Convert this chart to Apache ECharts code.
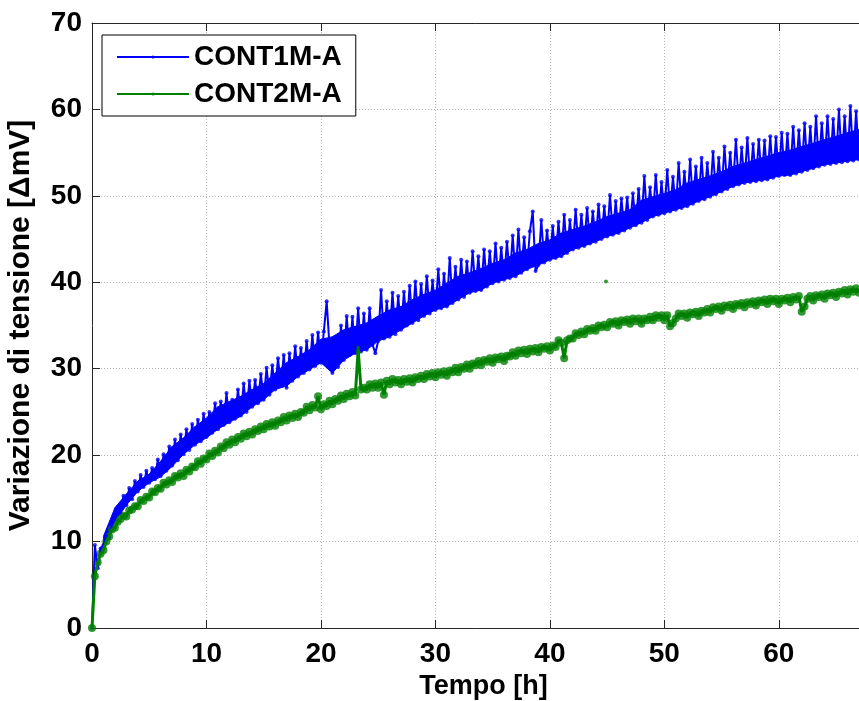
<!DOCTYPE html>
<html>
<head>
<meta charset="utf-8">
<script src="https://cdn.jsdelivr.net/npm/echarts@6/dist/echarts.min.js"></script>
<style>
  html, body { margin: 0; padding: 0; background: #fff; }
  #chart { width: 859px; height: 701px; }
</style>
</head>
<body>
<div id="chart"></div>
<script>
// Sampling interval of both recordings, in hours
const STEP_H = 0.25;

// CONT1M-A: voltage change [mV], one row per hour (samples at h, h+0.25, h+0.5, h+0.75)
const cont1Values = [
  0.0, 9.6, 6.9, 9.2,
  9.6, 10.8, 10.4, 12.0,
  12.5, 14.0, 13.2, 15.3,
  14.2, 16.2, 14.9, 17.0,
  15.8, 17.7, 16.3, 18.2,
  16.8, 18.5, 17.2, 19.5,
  17.6, 20.1, 18.2, 21.0,
  18.8, 21.8, 19.4, 22.4,
  20.1, 23.0, 20.6, 23.6,
  21.2, 24.1, 21.6, 24.8,
  22.1, 25.0, 22.6, 26.0,
  23.0, 26.2, 23.5, 27.2,
  23.8, 26.4, 24.2, 27.6,
  24.6, 28.3, 25.0, 28.6,
  25.6, 28.7, 26.0, 29.4,
  26.4, 30.1, 27.0, 30.4,
  27.6, 31.2, 28.0, 31.6,
  27.8, 31.8, 28.6, 32.6,
  29.1, 32.4, 29.5, 33.2,
  29.9, 33.9, 30.3, 34.2,
  30.7, 34.3, 37.8, 32.5,
  29.5, 33.7, 30.2, 35.0,
  31.0, 36.1, 31.6, 36.0,
  31.8, 37.0, 32.0, 36.4,
  32.2, 37.0, 32.8, 31.8,
  33.2, 39.1, 33.5, 37.8,
  33.7, 38.8, 34.0, 38.4,
  34.5, 38.9, 35.0, 39.6,
  35.3, 40.1, 35.6, 39.8,
  36.1, 40.7, 36.4, 40.2,
  36.8, 41.5, 37.0, 41.0,
  37.2, 42.8, 37.6, 41.8,
  38.0, 42.6, 38.3, 42.4,
  38.8, 43.6, 39.0, 43.0,
  39.1, 43.8, 39.5, 43.6,
  39.9, 44.5, 40.1, 44.0,
  40.3, 44.7, 40.5, 45.4,
  40.7, 46.1, 41.1, 45.2,
  41.5, 45.9, 48.2, 41.3,
  42.0, 47.2, 42.3, 46.0,
  42.6, 46.5, 42.8, 47.0,
  43.0, 47.8, 43.4, 47.2,
  43.8, 48.4, 44.0, 47.8,
  44.2, 48.6, 44.5, 48.2,
  44.7, 49.0, 45.0, 48.8,
  45.3, 50.1, 45.5, 49.4,
  45.7, 49.7, 46.0, 49.8,
  46.3, 50.3, 46.6, 50.8,
  46.9, 52.3, 47.2, 51.0,
  47.6, 52.4, 47.8, 51.6,
  48.0, 53.0, 48.2, 52.2,
  48.4, 53.8, 48.6, 52.8,
  48.8, 54.2, 49.1, 53.4,
  49.4, 54.4, 49.6, 53.8,
  49.9, 55.1, 50.2, 54.4,
  50.5, 55.7, 50.8, 55.0,
  51.1, 56.5, 51.3, 55.6,
  51.5, 56.7, 51.6, 56.0,
  51.7, 56.5, 51.8, 56.4,
  51.9, 56.9, 52.1, 56.8,
  52.3, 57.3, 52.4, 57.2,
  52.4, 58.0, 52.6, 57.6,
  52.8, 58.4, 53.0, 58.0,
  53.2, 59.2, 53.4, 58.4,
  53.6, 59.2, 53.7, 58.9,
  53.8, 60.0, 53.9, 59.2,
  54.0, 60.4, 54.1, 59.8,
  54.2
];

// CONT1M-A dense band (hourly lower and upper edge, mV), first value at hour 1
const BAND_START_H = 1;
const cont1BandLow = [
  9.4, 12.3, 14.2, 15.8, 16.8, 17.5, 18.7, 20.1, 21.2, 22.0,
  23.0, 23.8, 24.5, 25.6, 26.4, 27.6, 28.0, 29.1, 29.9, 30.7,
  29.5, 31.0, 31.8, 32.2, 33.2, 33.7, 34.5, 35.3, 36.1, 36.8,
  37.2, 38.0, 38.8, 39.1, 39.9, 40.3, 40.7, 41.5, 42.0, 42.6,
  43.0, 43.8, 44.2, 44.7, 45.3, 45.7, 46.3, 46.9, 47.6, 48.0,
  48.4, 48.8, 49.4, 49.9, 50.5, 51.1, 51.5, 51.7, 51.9, 52.3,
  52.4, 52.8, 53.2, 53.6, 53.8, 54.0, 54.2
];
const cont1BandTop = [
  10.6, 13.9, 15.5, 17.0, 17.8, 19.3, 21.0, 22.0, 23.3, 24.3,
  25.6, 26.2, 26.8, 27.6, 28.3, 29.5, 30.7, 31.4, 32.2, 33.4,
  33.7, 34.5, 34.9, 35.3, 36.1, 36.8, 37.2, 38.0, 38.6, 39.1,
  39.9, 40.7, 41.1, 41.6, 42.2, 42.6, 43.4, 43.8, 44.5, 44.9,
  45.7, 46.1, 46.5, 47.0, 47.6, 48.0, 48.4, 49.5, 49.9, 50.3,
  50.7, 51.5, 51.9, 52.3, 52.8, 53.4, 53.8, 54.2, 54.6, 55.0,
  55.3, 55.7, 56.1, 56.5, 56.9, 57.3, 57.7
];

// CONT2M-A: voltage change [mV], same sampling as CONT1M-A
const cont2Values = [
  0.0, 6.0, 7.6, 8.6,
  9.0, 10.0, 10.6, 11.4,
  11.6, 12.3, 12.6, 13.0,
  12.9, 13.6, 13.7, 14.1,
  14.1, 14.8, 14.7, 15.2,
  15.1, 15.8, 15.7, 16.2,
  16.1, 16.8, 16.6, 17.1,
  16.9, 17.6, 17.4, 17.9,
  17.6, 18.3, 18.1, 18.7,
  18.6, 19.3, 19.0, 19.6,
  19.5, 20.2, 19.9, 20.5,
  20.3, 21.0, 20.8, 21.5,
  21.2, 21.8, 21.5, 22.1,
  21.9, 22.5, 22.2, 22.7,
  22.4, 23.0, 22.8, 23.3,
  23.0, 23.6, 23.3, 23.8,
  23.4, 24.0, 23.8, 24.4,
  24.0, 24.6, 24.3, 24.8,
  24.4, 25.0, 24.9, 25.6,
  25.2, 25.8, 25.5, 26.8,
  25.3, 25.9, 25.7, 26.3,
  25.9, 26.5, 26.3, 26.9,
  26.5, 27.1, 26.8, 27.3,
  26.9, 32.2, 27.6, 27.8,
  27.6, 28.2, 27.8, 28.3,
  27.8, 28.4, 27.0, 28.6,
  28.2, 28.8, 28.4, 28.7,
  28.2, 28.8, 28.5, 28.9,
  28.4, 29.0, 28.8, 29.2,
  28.8, 29.4, 29.1, 29.5,
  29.0, 29.6, 29.3, 29.7,
  29.2, 29.8, 29.6, 30.1,
  29.6, 30.2, 30.0, 30.5,
  30.0, 30.6, 30.4, 30.9,
  30.4, 31.0, 30.8, 31.2,
  30.7, 31.3, 31.1, 31.4,
  30.9, 31.5, 31.4, 31.9,
  31.5, 32.1, 31.8, 32.2,
  31.7, 32.3, 32.0, 32.4,
  31.9, 32.5, 32.3, 32.6,
  32.1, 32.7, 32.5, 33.3,
  33.0, 31.2, 33.3, 33.5,
  33.5, 34.1, 33.9, 34.3,
  34.0, 34.6, 34.4, 34.7,
  34.4, 35.0, 34.8, 35.1,
  34.8, 35.4, 35.2, 35.5,
  35.0, 35.6, 35.4, 35.7,
  35.2, 35.8, 35.5, 35.8,
  35.2, 35.8, 35.6, 36.0,
  35.6, 36.2, 35.9, 36.2,
  35.6, 36.2, 34.9, 35.3,
  35.8, 36.4, 36.1, 36.4,
  35.9, 36.5, 36.3, 36.6,
  36.1, 36.7, 36.5, 36.9,
  36.5, 37.1, 36.9, 37.2,
  36.7, 37.3, 37.1, 37.4,
  36.9, 37.5, 37.3, 37.6,
  37.1, 37.7, 37.5, 37.8,
  37.3, 37.9, 37.7, 38.0,
  37.5, 38.1, 37.8, 38.1,
  37.5, 38.1, 37.9, 38.2,
  37.7, 38.3, 38.0, 38.4,
  36.6, 37.2, 38.1, 38.4,
  37.9, 38.5, 38.3, 38.6,
  38.1, 38.7, 38.5, 38.8,
  38.3, 38.9, 38.7, 39.1,
  38.6, 39.2, 38.9, 39.3,
  38.8
];

// Lone CONT2M-A reading that sits apart from the trace: [hour, mV]
const cont2Stray = [44.9, 40.1];

const xTickLabels = ['0', '10', '20', '30', '40', '50', '60'];
const yTickLabels = ['0', '10', '20', '30', '40', '50', '60', '70'];

const FONT = '"Liberation Sans", Arial, Helvetica, sans-serif';
const BLUE = '#0000ff';
const GREEN = '#008000';

function toPairs(values, start, step) {
  return values.map((v, i) => [start + i * step, v]);
}

const cont1Data = toPairs(cont1Values, 0, STEP_H);
// band rows: [hour, lower, upper]
const cont1BandData = cont1BandLow.map((low, i) => [BAND_START_H + i, low, cont1BandTop[i]]);

const cont2Data = toPairs(cont2Values, 0, STEP_H);
// sample markers of the continuous trace
const cont2Markers = cont2Data.slice();
// place the stray reading in time order, detached from its neighbours
const strayIdx = cont2Data.findIndex(p => p[0] > cont2Stray[0]);
cont2Data.splice(strayIdx, 0, [cont2Stray[0] - 0.01, '-'], cont2Stray.slice(), [cont2Stray[0] + 0.01, '-']);

// one filled quadrilateral between consecutive band rows
function renderBand(params, api) {
  const i = params.dataIndex;
  if (i >= cont1BandData.length - 1) return null;
  const a = cont1BandData[i];
  const b = cont1BandData[i + 1];
  const pts = [
    api.coord([a[0], a[1]]),
    api.coord([a[0], a[2]]),
    api.coord([b[0], b[2]]),
    api.coord([b[0], b[1]])
  ];
  return {
    type: 'polygon',
    shape: { points: pts },
    style: { fill: BLUE, stroke: BLUE, lineWidth: 1 }
  };
}

const xMax = 68.4;

const chart = echarts.init(document.getElementById('chart'), null, { renderer: 'canvas' });

const gridLine = { show: true, lineStyle: { color: '#b4b4b4', width: 1, type: [1, 2] } };
const axisLine = { show: true, onZero: false, lineStyle: { color: '#262626', width: 1 } };
const axisTick = { show: true, inside: true, length: 8, lineStyle: { color: '#262626', width: 1 } };
const tickFont = { fontFamily: FONT, fontWeight: 'bold', fontSize: 28, color: '#000' };

chart.setOption({
  animation: false,
  backgroundColor: '#fff',
  grid: { left: 92, right: -16, top: 23, bottom: 73, containLabel: false, outerBoundsMode: 'none' },
  legend: {
    orient: 'vertical',
    left: 102,
    top: 35,
    padding: [8, 14, 8, 14],
    itemWidth: 72,
    itemHeight: 4,
    itemGap: 9,
    borderColor: '#000',
    borderWidth: 1,
    backgroundColor: '#fff',
    textStyle: { fontFamily: FONT, fontWeight: 'bold', fontSize: 28, color: '#000' },
    data: ['CONT1M-A', 'CONT2M-A']
  },
  xAxis: [
    {
      type: 'value',
      position: 'bottom',
      min: 0,
      max: xMax,
      interval: 10,
      name: 'Tempo [h]',
      nameLocation: 'middle',
      nameGap: 36,
      nameTextStyle: { fontFamily: FONT, fontWeight: 'bold', fontSize: 27, color: '#000' },
      axisLine: axisLine,
      axisTick: axisTick,
      axisLabel: Object.assign({
        margin: 12,
        formatter: v => {
          const s = String(Math.round(v));
          return (Math.abs(v - Math.round(v)) < 1e-6 && xTickLabels.includes(s)) ? s : '';
        }
      }, tickFont),
      splitLine: gridLine
    },
    {
      type: 'value',
      position: 'top',
      min: 0,
      max: xMax,
      interval: 10,
      axisLine: axisLine,
      axisTick: axisTick,
      axisLabel: { show: false },
      splitLine: { show: false }
    }
  ],
  yAxis: {
    type: 'value',
    min: 0,
    max: 70,
    interval: 10,
    name: 'Variazione di tensione [\u0394mV]',
    nameLocation: 'middle',
    nameGap: 56,
    nameTextStyle: { fontFamily: FONT, fontWeight: 'bold', fontSize: 30, color: '#000' },
    axisLine: axisLine,
    axisTick: axisTick,
    axisLabel: Object.assign({
      margin: 10,
      formatter: v => {
        const s = String(Math.round(v));
        return yTickLabels.includes(s) ? s : '';
      }
    }, tickFont),
    splitLine: gridLine
  },
  series: [
    {
      name: 'CONT1M-A',
      type: 'line',
      xAxisIndex: 0,
      data: cont1Data,
      showSymbol: false,
      symbol: 'circle',
      lineStyle: { color: BLUE, width: 2 },
      itemStyle: { color: BLUE },
      emphasis: { disabled: true }
    },
    {
      name: 'CONT1M-A',
      type: 'scatter',
      xAxisIndex: 0,
      data: cont1Data,
      symbol: 'circle',
      symbolSize: 4,
      itemStyle: { color: BLUE },
      emphasis: { disabled: true }
    },
    {
      name: 'CONT1M-A',
      type: 'custom',
      xAxisIndex: 0,
      data: cont1BandData,
      encode: { x: 0, y: [1, 2] },
      renderItem: renderBand,
      itemStyle: { color: BLUE },
      emphasis: { disabled: true }
    },
    {
      name: 'CONT2M-A',
      type: 'line',
      xAxisIndex: 0,
      data: cont2Data,
      connectNulls: false,
      showSymbol: false,
      symbol: 'circle',
      lineStyle: { color: GREEN, width: 3 },
      itemStyle: { color: GREEN },
      emphasis: { disabled: true }
    },
    {
      name: 'CONT2M-A',
      type: 'scatter',
      xAxisIndex: 0,
      data: cont2Markers,
      symbol: 'circle',
      symbolSize: 8,
      itemStyle: { color: GREEN },
      emphasis: { disabled: true }
    },
    {
      name: 'CONT2M-A',
      type: 'scatter',
      xAxisIndex: 0,
      data: [cont2Stray.slice()],
      symbol: 'circle',
      symbolSize: 4,
      itemStyle: { color: GREEN },
      emphasis: { disabled: true }
    }
  ]
});
</script>
</body>
</html>
